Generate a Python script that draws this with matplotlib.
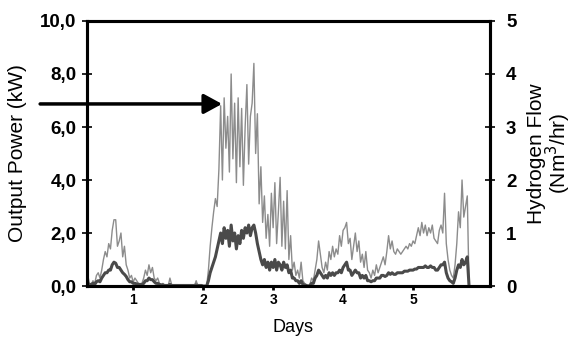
import numpy as np
import matplotlib
matplotlib.use("Agg")
from matplotlib import pyplot as plt

# sampled every 0.025 days, starting at day 0.35
day_start = 0.35
day_step = 0.025

# output power (kW), light trace
power_kw = [
    0.4, 0.1, 0.05, 0.2, 0.1, 0.4, 0.5, 0.3, 0.6, 1.0,
    1.3, 1.1, 1.6, 1.4, 2.1, 2.5, 2.5, 1.5, 1.7, 2.0,
    1.1, 1.5, 0.8, 0.6, 0.3, 0.4, 0.15, 0.3, 0.2, 0.1,
    0.05, 0.1, 0.3, 0.6, 0.4, 0.8, 0.5, 0.7, 0.3, 0.2,
    0.3, 0.1, 0.05, 0.1, 0.0, 0.05, 0.0, 0.3, 0.05, 0.0,
    0.0, 0.05, 0.0, 0.0, 0.0, 0.05, 0.0, 0.0, 0.0, 0.05,
    0.0, 0.0, 0.2, 0.0, 0.0, 0.05, 0.0, 0.0, 0.0, 0.6,
    1.5, 2.2, 2.8, 3.3, 3.0, 4.4, 6.8, 4.0, 7.1, 5.2,
    6.4, 4.3, 8.0, 4.8, 6.9, 3.9, 7.1, 4.5, 6.7, 3.8,
    6.0, 7.6, 4.6, 6.4, 6.9, 8.4, 5.0, 6.5, 3.1, 4.5,
    2.4, 3.4, 1.8, 2.7, 1.5, 3.5, 2.2, 3.9, 1.6, 2.8,
    4.1, 1.5, 3.2, 1.4, 3.6, 1.0, 1.9, 0.6, 0.9, 0.4,
    0.6, 0.3, 0.9, 0.2, 0.1, 0.05, 0.0, 0.05, 0.3, 0.2,
    0.6, 1.0, 1.7, 1.2, 0.7, 0.5, 0.9, 0.6, 1.3, 1.0,
    1.5, 1.1, 1.4, 1.2, 1.9, 1.5, 2.1, 2.2, 2.4, 1.6,
    1.8, 1.0, 1.5, 2.0, 1.3, 1.7, 0.9, 1.2, 0.7, 1.3,
    0.6, 0.5, 0.3, 0.6, 0.4, 0.8, 0.5, 0.7, 0.9, 1.1,
    0.8, 1.3, 1.9, 1.4, 1.7, 1.3, 1.2, 1.4, 1.3, 1.2,
    1.3, 1.4, 1.5, 1.4, 1.6, 1.5, 1.7, 1.6, 1.9, 2.2,
    1.9, 2.4, 2.0, 2.3, 1.9, 2.2, 2.0, 2.3, 1.8, 1.7,
    1.6, 2.1, 2.3, 2.0, 3.5, 1.6, 1.0, 0.6, 0.4, 0.3,
    0.8, 1.6, 2.8, 2.2, 4.0, 2.6, 3.0, 3.4, 0.0,
]

# hydrogen flow (Nm3/hr), dark trace
h2_flow = [
    0.05, 0.03, 0.03, 0.05, 0.03, 0.08, 0.1, 0.08, 0.15, 0.2,
    0.25, 0.25, 0.3, 0.3, 0.4, 0.45, 0.43, 0.35, 0.35, 0.3,
    0.25, 0.22, 0.18, 0.12, 0.08, 0.08, 0.05, 0.05, 0.04, 0.03,
    0.03, 0.03, 0.05, 0.1, 0.1, 0.15, 0.12, 0.12, 0.08, 0.05,
    0.05, 0.03, 0.02, 0.02, 0.01, 0.01, 0.01, 0.03, 0.01, 0.01,
    0.01, 0.01, 0.01, 0.01, 0.01, 0.01, 0.01, 0.01, 0.01, 0.01,
    0.01, 0.01, 0.02, 0.01, 0.01, 0.01, 0.0, 0.0, 0.0, 0.1,
    0.25, 0.35, 0.45, 0.55, 0.7, 0.85, 1.0, 0.8, 1.1, 0.9,
    1.05, 0.75, 1.15, 0.85, 1.0, 0.7, 0.95, 0.8, 1.05, 0.9,
    1.1, 1.0, 1.15, 0.95, 1.1, 1.15, 1.0, 0.8, 0.65, 0.5,
    0.4, 0.5, 0.35, 0.45, 0.3, 0.45, 0.35, 0.5, 0.3, 0.45,
    0.4, 0.3, 0.45, 0.35, 0.4, 0.25, 0.3, 0.15, 0.15, 0.1,
    0.1, 0.05, 0.1, 0.03, 0.02, 0.01, 0.0, 0.01, 0.05, 0.05,
    0.15, 0.2, 0.3, 0.25, 0.2, 0.15, 0.2, 0.15, 0.25, 0.2,
    0.25, 0.2, 0.25, 0.25, 0.3, 0.25, 0.35, 0.4, 0.45, 0.3,
    0.3, 0.2, 0.25, 0.3, 0.25, 0.25, 0.15, 0.2, 0.15, 0.2,
    0.1, 0.1, 0.08, 0.1, 0.1, 0.15, 0.15, 0.15, 0.2, 0.2,
    0.18, 0.2, 0.25, 0.22, 0.25, 0.22, 0.22, 0.25, 0.25, 0.25,
    0.25, 0.28, 0.28, 0.28, 0.3, 0.3, 0.3, 0.32, 0.32, 0.35,
    0.35, 0.35, 0.35, 0.38, 0.35, 0.35, 0.38, 0.35, 0.35, 0.3,
    0.3, 0.35, 0.4, 0.4, 0.45, 0.25, 0.15, 0.1, 0.08, 0.05,
    0.15, 0.3, 0.4, 0.35, 0.5, 0.4, 0.45, 0.55, 0.0,
]

day_ticks = [1, 2, 3, 4, 5]
power_ticks = [0, 2, 4, 6, 8, 10]
flow_ticks = [0, 1, 2, 3, 4, 5]

days = day_start + day_step * np.arange(len(power_kw))

plt.rcParams['font.family'] = ['Liberation Sans', 'DejaVu Sans']

fig = plt.figure(figsize=(5.74, 3.38), dpi=100)
ax = fig.add_axes([0.1516, 0.1538, 0.7021, 0.7841])
ax2 = ax.twinx()

ax.plot(days, power_kw, color='#8c8c8c', lw=1.0)
ax2.plot(days, h2_flow, color='#4a4a4a', lw=2.2)

ax.set_xlim(0.34, 6.1)
ax.set_ylim(0, 10)
ax2.set_ylim(0, 5)

ax.set_xticks(day_ticks)
ax.set_yticks(power_ticks)
ax.set_yticklabels([f"{v:.1f}".replace('.', ',') for v in power_ticks])
ax2.set_yticks(flow_ticks)

for a in (ax, ax2):
    for s in a.spines.values():
        s.set_linewidth(2.2)

ax.tick_params(axis='x', direction='out', length=3, width=2, pad=2,
               labelsize=10)
ax.tick_params(axis='y', direction='inout', length=7, width=1.2, pad=4,
               labelsize=13.5)
ax2.tick_params(axis='y', direction='inout', length=7, width=1.2, pad=8,
                labelsize=13.5)
for lab in ax.get_xticklabels() + ax.get_yticklabels() + ax2.get_yticklabels():
    lab.set_fontweight('bold')

ax.set_xlabel('Days', fontsize=13)
ax.xaxis.set_label_coords(0.511, -0.125)
ax.set_ylabel('Output Power (kW)', fontsize=15)
ax.yaxis.set_label_coords(-0.15, 0.5)
ax2.set_ylabel('Hydrogen Flow\n(Nm$^3$/hr)', fontsize=15, linespacing=0.9)
ax2.yaxis.set_label_coords(1.092, 0.5)

ax.annotate('', xy=(2.27, 6.87), xytext=(-0.33, 6.87),
            xycoords='data', textcoords='data', annotation_clip=False,
            arrowprops=dict(arrowstyle='-|>,head_length=1.1,head_width=0.6',
                            lw=2.5, color='black', shrinkA=0, shrinkB=0,
                            mutation_scale=10))

fig.savefig('out.png', dpi=100)
